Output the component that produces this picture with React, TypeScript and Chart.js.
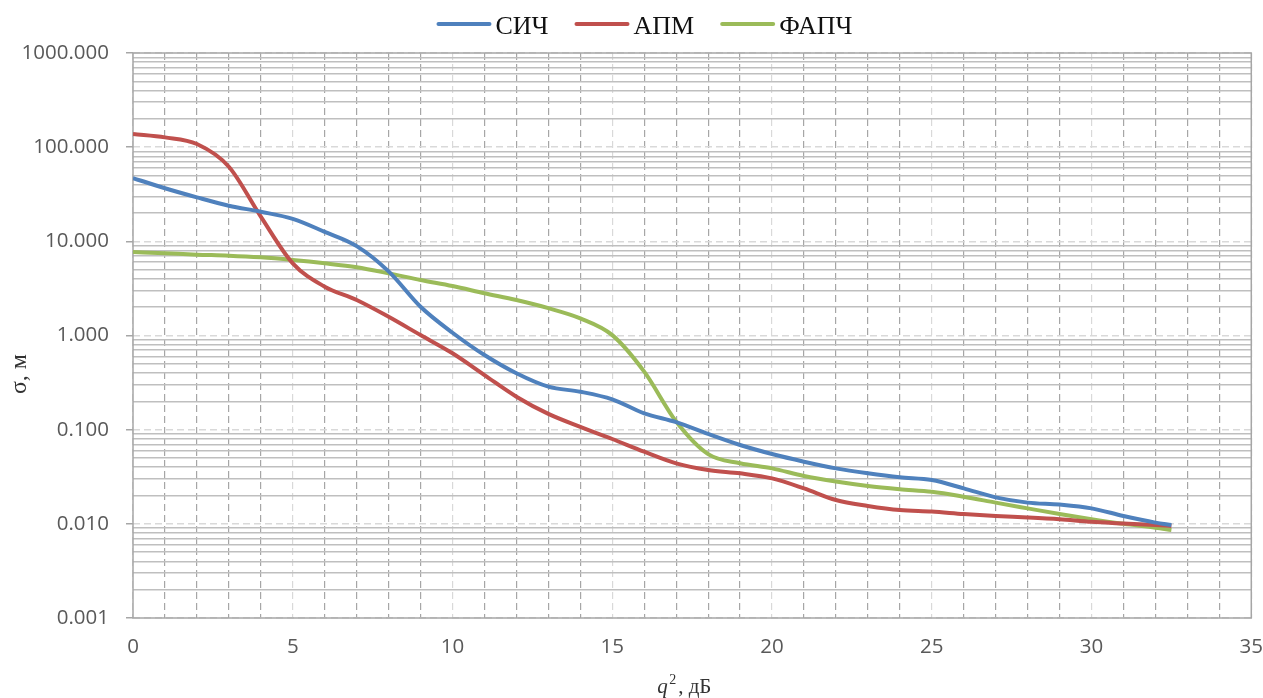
import React, { useEffect, useRef } from 'react';
import { Chart, registerables } from 'chart.js';

Chart.register(...registerables);

// ---- data ----
const q2Values = [0, 1, 2, 3, 4, 5, 6, 7, 8, 9, 10, 11, 12, 13, 14, 15, 16, 17, 18, 19, 20, 21, 22, 23, 24, 25, 26, 27, 28, 29, 30, 31, 32, 32.5];

const seriesNames = ['СИЧ', 'АПМ', 'ФАПЧ'];
const seriesColors = ['#4F81BD', '#C0504D', '#9BBB59'];

const sichValues = [47, 36.6, 29.3, 23.9, 20.6, 17.3, 12.6, 8.9, 4.8, 2.02, 1.07, 0.62, 0.397, 0.286, 0.253, 0.21, 0.149, 0.12, 0.09, 0.0687, 0.0551, 0.0457, 0.0388, 0.0344, 0.0312, 0.0292, 0.0238, 0.0191, 0.0168, 0.016, 0.0146, 0.0121, 0.0103, 0.0097];
const apmValues = [138, 127, 108, 62, 18.3, 5.84, 3.3, 2.38, 1.58, 1.01, 0.647, 0.38, 0.224, 0.147, 0.107, 0.0796, 0.0583, 0.0439, 0.0373, 0.0344, 0.0304, 0.0238, 0.0179, 0.0155, 0.014, 0.0135, 0.0127, 0.0121, 0.0117, 0.0112, 0.0105, 0.0101, 0.0097, 0.0095];
const fapchValues = [7.7, 7.47, 7.22, 7.05, 6.76, 6.33, 5.84, 5.3, 4.57, 3.88, 3.35, 2.81, 2.38, 1.95, 1.52, 1.01, 0.413, 0.122, 0.055, 0.044, 0.0388, 0.0322, 0.0281, 0.0252, 0.0233, 0.0219, 0.0194, 0.0168, 0.0146, 0.0127, 0.0112, 0.01, 0.0091, 0.0086];

const yDecadeTicks = [0.001, 0.01, 0.1, 1, 10, 100, 1000];
const xLabelTicks = [0, 5, 10, 15, 20, 25, 30, 35];
const xMinorStep = 1;

const yTitle = 'σ, м';
const xTitleVar = 'q';
const xTitleSup = '2';
const xTitleRest = ', дБ';

// ---- helpers ----
const isDecade = (v: number) => Math.abs(Math.log10(v) - Math.round(Math.log10(v))) < 1e-9;
const allYTicks: number[] = [];
for (let i = 0; i < yDecadeTicks.length - 1; i++) {
  for (let m = 1; m <= 9; m++) allYTicks.push(+(m * yDecadeTicks[i]).toPrecision(6));
}
allYTicks.push(yDecadeTicks[yDecadeTicks.length - 1]);
const xMin = xLabelTicks[0];
const xMax = xLabelTicks[xLabelTicks.length - 1];
const allXTicks: number[] = [];
for (let v = xMin; v <= xMax + 1e-9; v += xMinorStep) allXTicks.push(v);
const isXLabel = (v: number) => xLabelTicks.some((t) => Math.abs(t - v) < 1e-9);

const tickFont = { family: "'Open Sans', sans-serif", size: 20.5 };
const tickColor = '#595959';

export default function App() {
  const ref = useRef<HTMLCanvasElement>(null);

  useEffect(() => {
    if (!ref.current) return;
    const valuesList = [sichValues, apmValues, fapchValues];

    const framePlugin = {
      id: 'frame',
      beforeDatasetsDraw(chart: any) {
        const { ctx, chartArea: a } = chart;
        ctx.save();
        ctx.strokeStyle = '#a6a6a6';
        ctx.lineWidth = 1.5;
        ctx.strokeRect(a.left, a.top, a.right - a.left, a.bottom - a.top);
        ctx.restore();
      },
    };

    const legendPlugin = {
      id: 'customLegend',
      afterDraw(chart: any) {
        const { ctx } = chart;
        ctx.save();
        ctx.font = "26px 'Liberation Serif', serif";
        const lineW = 53;
        const gapText = 5;
        const gapItem = 27;
        const items = chart.data.datasets.map((d: any) => ({ label: d.label, color: d.borderColor, w: ctx.measureText(d.label).width }));
        const total = items.reduce((s: number, it: any) => s + lineW + gapText + it.w, 0) + gapItem * (items.length - 1);
        let x = 645 - total / 2;
        const lineY = 24;
        const textY = 34;
        items.forEach((it: any) => {
          ctx.strokeStyle = it.color;
          ctx.lineWidth = 4;
          ctx.lineCap = 'round';
          ctx.beginPath();
          ctx.moveTo(x + 1, lineY);
          ctx.lineTo(x + lineW - 1, lineY);
          ctx.stroke();
          ctx.fillStyle = '#111111';
          ctx.textBaseline = 'alphabetic';
          ctx.textAlign = 'left';
          ctx.fillText(it.label, x + lineW + gapText, textY);
          x += lineW + gapText + it.w + gapItem;
        });
        ctx.restore();
      },
    };

    const titlesPlugin = {
      id: 'axisTitles',
      afterDraw(chart: any) {
        const { ctx, chartArea: a } = chart;
        ctx.save();
        ctx.fillStyle = '#333333';
        // y title
        ctx.translate(20, 374);
        ctx.rotate(-Math.PI / 2);
        ctx.font = "24px 'Liberation Serif', serif";
        ctx.textAlign = 'center';
        ctx.textBaseline = 'middle';
        ctx.fillText(yTitle, 0, 0);
        ctx.restore();
        // x title
        ctx.save();
        ctx.fillStyle = '#333333';
        const cx = (a.left + a.right) / 2;
        const base = 693;
        ctx.textBaseline = 'alphabetic';
        ctx.textAlign = 'left';
        ctx.font = "italic 21px 'Liberation Serif', serif";
        ctx.fillText(xTitleVar, cx - 35, base);
        ctx.font = "14px 'Liberation Serif', serif";
        ctx.fillText(xTitleSup, cx - 23, base - 9);
        ctx.font = "21px 'Liberation Serif', serif";
        ctx.fillText(xTitleRest, cx - 14, base);
        ctx.restore();
      },
    };

    const chart = new Chart(ref.current, {
      type: 'line',
      data: {
        datasets: seriesNames.map((name, i) => ({
          label: name,
          data: q2Values.map((x, j) => ({ x, y: valuesList[i][j] })),
          borderColor: seriesColors[i],
          backgroundColor: seriesColors[i],
          borderWidth: 4,
          pointRadius: 0,
          cubicInterpolationMode: 'monotone' as const,
          fill: false,
        })),
      },
      options: {
        animation: false,
        responsive: true,
        maintainAspectRatio: false,
        layout: { padding: { top: 53, right: 0, left: 0, bottom: 0 } },
        plugins: {
          legend: { display: false },
          tooltip: { enabled: false },
          title: { display: false },
        },
        scales: {
          x: {
            type: 'linear',
            min: xMin,
            max: xMax,
            afterBuildTicks: (s: any) => {
              s.ticks = allXTicks.map((v) => ({ value: v }));
            },
            afterFit: (s: any) => {
              s.height = 80;
            },
            ticks: {
              autoSkip: false,
              maxRotation: 0,
              padding: 0,
              font: tickFont,
              color: tickColor,
              callback: (v: any) => (isXLabel(Number(v)) ? String(v) : ''),
            },
            grid: {
              color: (c: any) => (c.tick && isXLabel(c.tick.value) ? '#d9d9d9' : '#a6a6a6'),
              tickColor: 'rgba(0,0,0,0)',
              lineWidth: 1.2,
              drawTicks: true,
              tickLength: 17,
            },
            border: { display: false, dash: [7, 4] },
          },
          y: {
            type: 'logarithmic',
            position: 'left',
            min: yDecadeTicks[0],
            max: yDecadeTicks[yDecadeTicks.length - 1],
            afterBuildTicks: (s: any) => {
              s.ticks = allYTicks.map((v) => ({ value: v, major: isDecade(v) }));
            },
            afterFit: (s: any) => {
              s.width = 133;
            },
            ticks: {
              autoSkip: false,
              padding: 17,
              font: tickFont,
              color: tickColor,
              callback: (v: any) => (isDecade(Number(v)) ? Number(v).toFixed(3) : ''),
            },
            grid: {
              color: (c: any) => (c.tick && isDecade(c.tick.value) ? '#d9d9d9' : 'rgba(0,0,0,0)'),
              tickColor: (c: any) => (c.tick && isDecade(c.tick.value) ? '#a6a6a6' : 'rgba(0,0,0,0)'),
              tickLength: 7,
              lineWidth: 1.5,
              drawTicks: true,
            },
            border: { display: false, dash: [7, 4] },
          },
          y2: {
            type: 'logarithmic',
            position: 'left',
            min: yDecadeTicks[0],
            max: yDecadeTicks[yDecadeTicks.length - 1],
            afterBuildTicks: (s: any) => {
              s.ticks = allYTicks.map((v) => ({ value: v }));
            },
            afterFit: (s: any) => {
              s.width = 0;
            },
            ticks: { display: false },
            grid: {
              color: (c: any) => (c.tick && !isDecade(c.tick.value) ? '#bfbfbf' : 'rgba(0,0,0,0)'),
              lineWidth: 1.5,
              drawTicks: false,
            },
            border: { display: false },
          },
        },
      },
      plugins: [framePlugin, legendPlugin, titlesPlugin],
    } as any);

    return () => chart.destroy();
  }, []);

  return (
    <div style={{ position: 'fixed', left: 0, top: 0, width: 1263, height: 698, background: '#fff' }}>
      <canvas ref={ref} style={{ display: 'block' }} />
    </div>
  );
}
